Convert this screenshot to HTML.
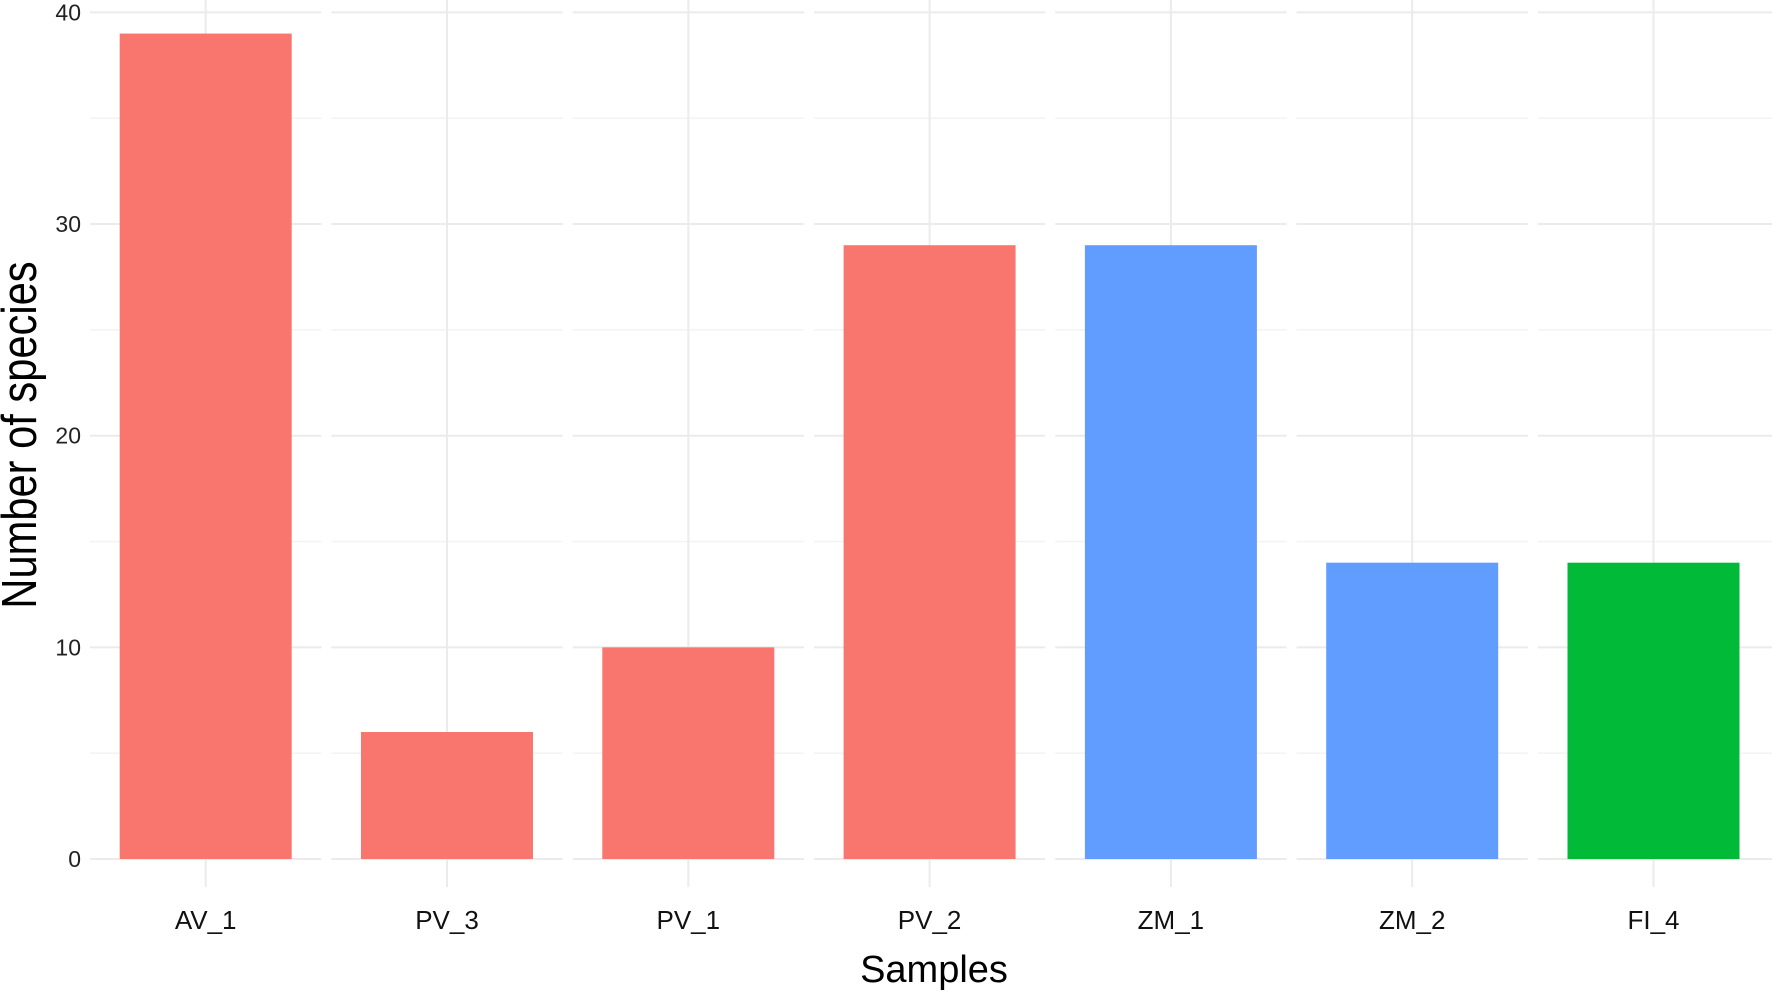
<!DOCTYPE html>
<html><head><meta charset="utf-8"><style>
html,body{margin:0;padding:0;background:#fff;}
svg{display:block;font-family:"Liberation Sans",sans-serif;}
</style></head><body>
<svg id="chart" width="1772" height="994" xmlns="http://www.w3.org/2000/svg">
<g id="grid"></g>
<g id="bars"></g>
<g id="yticks"></g>
<g id="xticks"></g>
<text x="934" y="982" font-size="38" text-anchor="middle" fill="#000">Samples</text>
<text transform="translate(36,435) rotate(-90) scale(0.85,1)" font-size="49" text-anchor="middle" fill="#000">Number of species</text>
</svg>
<script>
const categories = ["AV_1","PV_3","PV_1","PV_2","ZM_1","ZM_2","FI_4"];
const values = [39, 6, 10, 29, 29, 14, 14];
const groups = ["AV","PV","PV","PV","ZM","ZM","FI"];
const yTicks = [0, 10, 20, 30, 40];
const yMinor = [5, 15, 25, 35];

const colors = {AV:"#F8766D", PV:"#F8766D", ZM:"#619CFF", FI:"#00BA38"};
const plotLeft = 90, plotRight = 1772;
const firstCenter = 205.7, step = 241.3, barW = 172;
const y0 = 859, y40 = 12.4;
function yScale(v){ return y0 - (v/40)*(y0 - y40); }
function xScale(i){ return firstCenter + i*step; }
const NS = "http://www.w3.org/2000/svg";
const grid = document.getElementById('grid');
const bars = document.getElementById('bars');
const yt = document.getElementById('yticks');
const xt = document.getElementById('xticks');

function hline(v, color, w, name){
  const breaks = [plotLeft];
  for(let i=0;i<categories.length-1;i++){ breaks.push((xScale(i)+xScale(i+1))/2); }
  breaks.push(plotRight);
  for(let k=0;k<breaks.length-1;k++){
    const l = document.createElementNS(NS,'line');
    
    
    l.setAttribute('x1', k===0 ? breaks[k] : breaks[k]+5);
    l.setAttribute('x2', k===breaks.length-2 ? breaks[k+1] : breaks[k+1]-5);
    l.setAttribute('y1', yScale(v)); l.setAttribute('y2', yScale(v));
    l.setAttribute('stroke', color); l.setAttribute('stroke-width', w);
    grid.appendChild(l);
  }
}
yMinor.forEach(v => hline(v, '#f3f3f3', 1.5, 'minor-gridline'));
yTicks.forEach(v => hline(v, '#ebebeb', 2, 'major-gridline'));
categories.forEach((c,i) => {
  const l = document.createElementNS(NS,'line');
  
  
  l.setAttribute('x1', xScale(i)); l.setAttribute('x2', xScale(i));
  l.setAttribute('y1', 0); l.setAttribute('y2', 887);
  l.setAttribute('stroke', '#ebebeb'); l.setAttribute('stroke-width', 2);
  grid.appendChild(l);
});
categories.forEach((c,i) => {
  const r = document.createElementNS(NS,'rect');
  
  
  r.setAttribute('x', xScale(i) - barW/2);
  r.setAttribute('width', barW);
  r.setAttribute('y', yScale(values[i]));
  r.setAttribute('height', yScale(0) - yScale(values[i]));
  r.setAttribute('fill', colors[groups[i]]);
  bars.appendChild(r);
  const t = document.createElementNS(NS,'text');
  
  
  t.setAttribute('x', xScale(i)); t.setAttribute('y', 929);
  t.setAttribute('font-size', 26); t.setAttribute('text-anchor', 'middle');
  t.setAttribute('fill', '#111');
  t.textContent = c;
  xt.appendChild(t);
});
yTicks.forEach(v => {
  const t = document.createElementNS(NS,'text');
  
  
  t.setAttribute('x', 81); t.setAttribute('y', yScale(v) + 8);
  t.setAttribute('font-size', 23); t.setAttribute('text-anchor', 'end');
  t.setAttribute('fill', '#222');
  t.textContent = v;
  yt.appendChild(t);
});
</script>
</body></html>
